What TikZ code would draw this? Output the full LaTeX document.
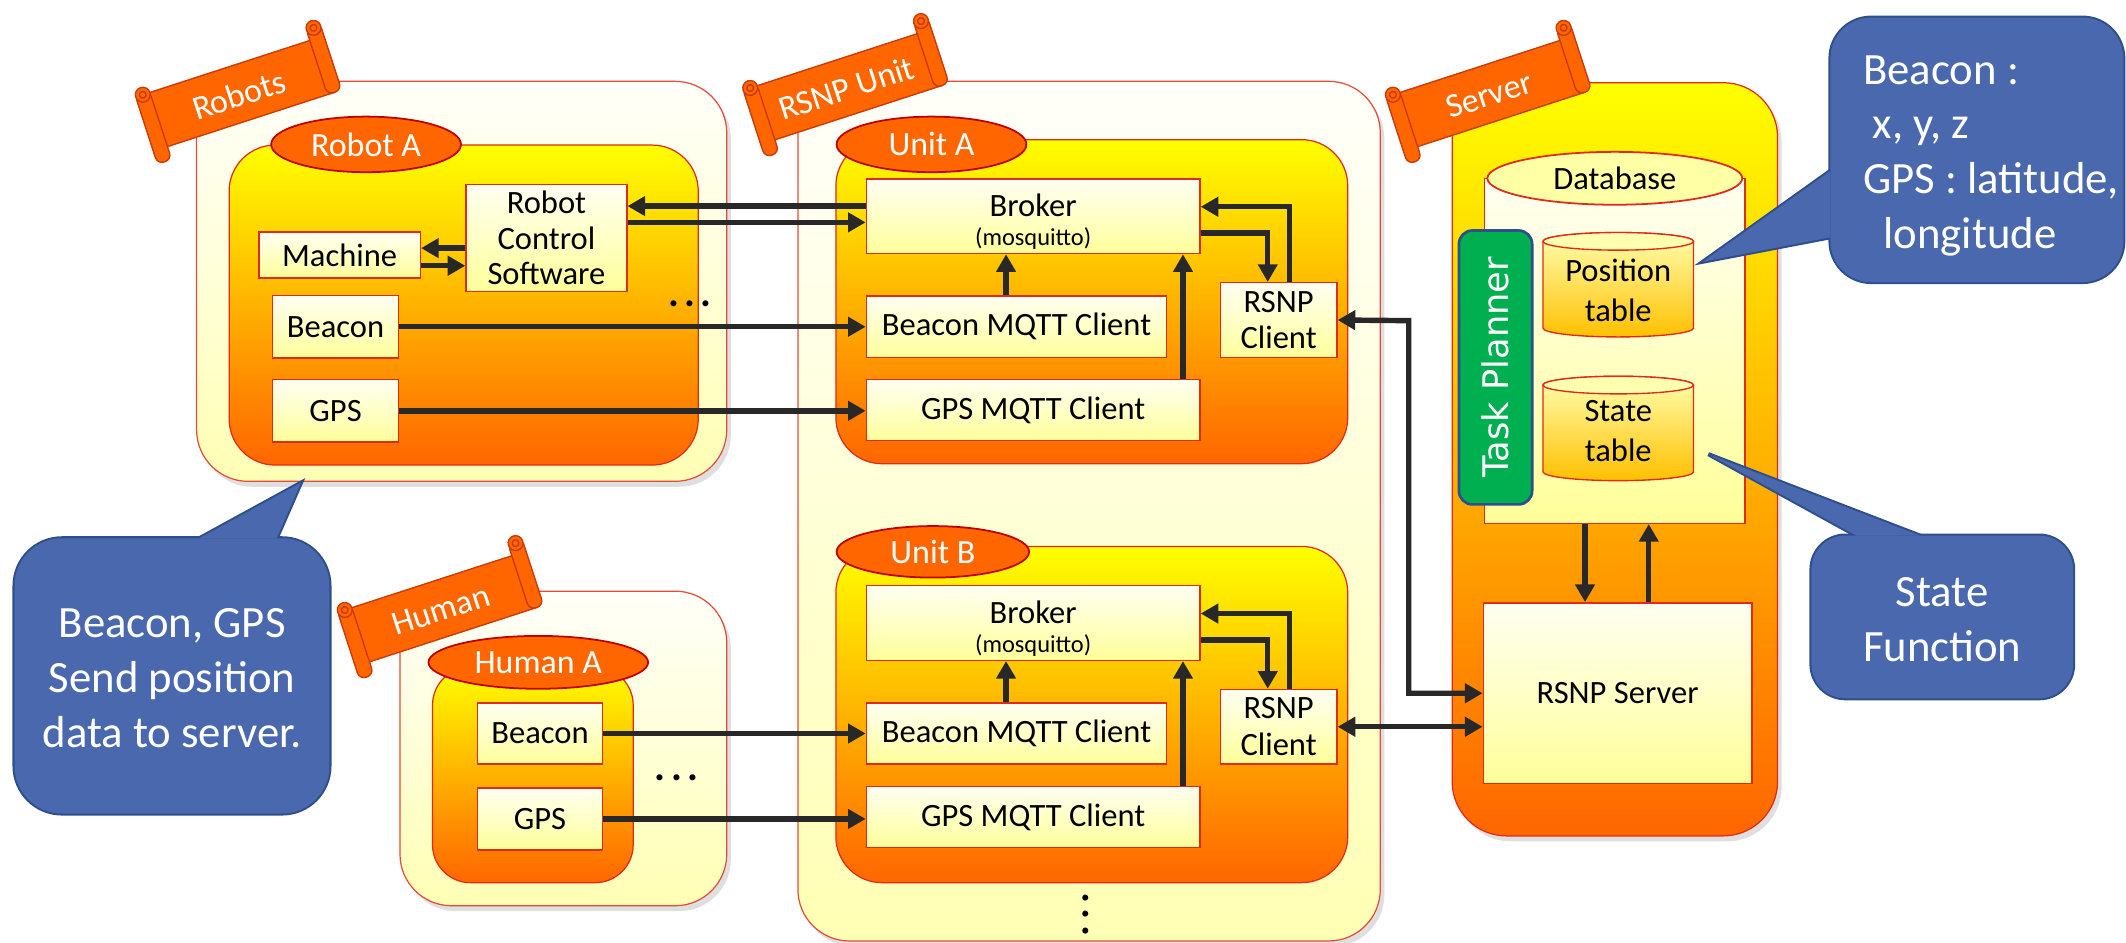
\documentclass[tikz,border=0pt]{standalone}
\usepackage{fontspec}
\setmainfont{Carlito}
\newfontfamily\tpfont{DejaVu Sans}
\usetikzlibrary{arrows.meta,shadows,shapes.geometric}

\definecolor{arrowcol}{HTML}{282828}
\definecolor{boxline}{HTML}{E02A1A}
\definecolor{orng}{HTML}{FF6600}
\definecolor{yllw}{HTML}{FFFF00}
\definecolor{compTop}{HTML}{FFFFF2}
\definecolor{compBot}{HTML}{FFFF9A}
\definecolor{outTop}{HTML}{FFFFFA}
\definecolor{outBot}{HTML}{FFFFB4}
\definecolor{callFill}{HTML}{4A68AD}
\definecolor{callLine}{HTML}{2F4E8C}
\definecolor{tpGreen}{HTML}{00B050}
\definecolor{tpLine}{HTML}{2F4E8C}
\definecolor{tagLine}{HTML}{C00000}
\definecolor{bannerLine}{HTML}{C83A0A}
\definecolor{tblTop}{HTML}{FFFFB0}
\definecolor{tblBot}{HTML}{FFC000}
\definecolor{dbTopFill}{HTML}{FFFFA6}

\tikzset{
 outerbox/.style={draw=boxline!85, line width=0.9, top color=outTop, bottom color=outBot, rounded corners=38, drop shadow={opacity=0.25, shadow xshift=3pt, shadow yshift=-4pt}},
 serverbox/.style={draw=boxline, line width=0.9, top color=yllw, bottom color=orng, rounded corners=40, drop shadow={opacity=0.25, shadow xshift=3pt, shadow yshift=-4pt}},
 innerbox/.style={draw=boxline, line width=0.9, top color=yllw, bottom color=orng, rounded corners=34},
 comp/.style={draw=boxline, line width=1.1, top color=compTop, bottom color=compBot, inner sep=0pt, align=center, font=\fontsize{24}{26}\selectfont},
 comptext/.style={inner sep=0pt, align=center},
 tagell/.style={ellipse, draw=tagLine, line width=1.3, fill=orng, text=white, inner sep=0pt, font=\fontsize{25}{27}\selectfont},
 arrowline/.style={draw=arrowcol, line width=4, -{Triangle[length=13pt,width=14pt]}},
 dblarrow/.style={draw=arrowcol, line width=4, {Triangle[length=13pt,width=14pt]}-{Triangle[length=13pt,width=14pt]}},
 bannerfill/.style={fill=orng, draw=bannerLine, line width=1},
 bannertext/.style={text=white, font=\fontsize{25}{27}\selectfont, inner sep=0pt},
 calloutedge/.style={draw=callLine, line width=3},
 calloutfill/.style={fill=callFill},
 callouttext/.style={text=white, font=\fontsize{33}{40.5}\selectfont, inner sep=0pt},
 tablebody/.style={draw=boxline, line width=1, top color=tblTop, bottom color=tblBot},
 tabletop/.style={draw=boxline, line width=1, fill=tblTop},
 tbltext/.style={align=center, inner sep=0pt, font=\fontsize{24}{29.5}\selectfont},
 dbstyle/.style={draw=boxline, line width=1, top color=compTop, bottom color=compBot, inner sep=0pt},
 dbell/.style={ellipse, draw=boxline, line width=1.3, fill=dbTopFill, inner sep=0pt, font=\fontsize{24}{26}\selectfont},
 dotstyle/.style={font=\fontsize{30}{32}\selectfont\bfseries, inner sep=0pt, text=black},
}

\newcommand\drawbanner[4]{%
\begin{scope}[shift={(#1,#2)}, rotate=18]
 \path[bannerfill] (-67.5,-21) rectangle (67.5,21);
 \path[bannerfill, rounded corners=5] (-73,-23) rectangle (-62,31);
 \path[bannerfill] (-67.5,-21) circle[radius=5.5];
 \path[bannerfill] (-67.5,-21) circle[radius=2.5];
 \path[bannerfill, rounded corners=5] (62,-31) rectangle (73,21);
 \path[bannerfill] (67.5,-29) circle[radius=5.5];
 \path[bannerfill] (67.5,-29) circle[radius=2.5];
 \node[bannertext, rotate=18] (#4) at (0,1) {#3};
\end{scope}}

\begin{document}
\begin{tikzpicture}[x=1pt,y=-1pt]
\useasboundingbox (0,0) rectangle (1568,695);

% outer containers
\path[outerbox] (145,60) rectangle (536,355);
\path[outerbox] (588.5,60) rectangle (1018,694);
\path[outerbox] (295,436) rectangle (536,668);
\path[serverbox] (1071,61) rectangle (1311,616.5);

% inner boxes
\path[innerbox] (169,107) rectangle (515,343);
\path[innerbox] (616.5,103) rectangle (994,342);
\path[innerbox] (616.5,403) rectangle (994,651);
\path[innerbox, rounded corners=28] (319,492) rectangle (467,651);

% database
\node[dbstyle, minimum width=192, minimum height=254.5] (dbBody) at (1191,258.75) {};
\node[dbell, minimum width=188, minimum height=39] (dbTop) at (1191,131.5) {Database};
\path[tablebody] (1138,178) -- (1138,242) arc[start angle=180, end angle=0, x radius=55.5, y radius=6.5] -- (1249,178) arc[start angle=0, end angle=-180, x radius=55.5, y radius=6.5] -- cycle;
\path[tabletop] (1193.5,178) ellipse [x radius=55.5, y radius=6.5];
\node[tbltext] (posTbl) at (1193.5,214) {Position\\table};
\path[tablebody] (1138,284) -- (1138,348) arc[start angle=180, end angle=0, x radius=55.5, y radius=6.5] -- (1249,284) arc[start angle=0, end angle=-180, x radius=55.5, y radius=6.5] -- cycle;
\path[tabletop] (1193.5,284) ellipse [x radius=55.5, y radius=6.5];
\node[tbltext] (stTbl) at (1193.5,318) {State\\table};
\node[draw=tpLine, line width=2, fill=tpGreen, rounded corners=10, rotate=90, minimum width=202, minimum height=54, inner sep=0pt, text=white, font=\tpfont\fontsize{26}{28}\selectfont] (taskPl) at (1103,271) {Task Planner};
\node[comp, minimum width=198, minimum height=133.4] (rsnpS) at (1193,511.3) {RSNP Server};

% robot components
\node[comp, minimum width=119, minimum height=34] (mach) at (250.5,188) {Machine};
\node[comp, minimum width=118.5, minimum height=79] (rcs) at (403,175.5) {Robot\\Control\\Software};
\node[comp, minimum width=93, minimum height=46] (beaconR) at (247.5,241) {Beacon};
\node[comp, minimum width=93, minimum height=46] (gpsR) at (247.5,303) {GPS};

% human components
\node[comp, minimum width=92.5, minimum height=45] (beaconH) at (398.25,541) {Beacon};
\node[comp, minimum width=92.5, minimum height=46] (gpsH) at (398.25,604) {GPS};

% unit components
\foreach \u/\dy in {A/0,B/300}{
 \node[comp, minimum width=246, minimum height=55] (broker\u) at (762,159.5+\dy) {};
 \node[comptext, font=\fontsize{24}{21.5}\selectfont] (brokerT\u) at (762,163.5+\dy) {Broker\\{\fontsize{18}{21.5}\selectfont (mosquitto)}};
 \node[comp, minimum width=221.5, minimum height=45.2] (bmq\u) at (749.75,241+\dy) {Beacon MQTT Client};
 \node[comp, minimum width=246, minimum height=45] (gmq\u) at (762,302.5+\dy) {GPS MQTT Client};
 \node[comp, minimum width=86, minimum height=55, font=\fontsize{24}{27}\selectfont] (rc\u) at (943,236+\dy) {RSNP\\Client};
}

% tags
\node[tagell, minimum width=140, minimum height=41] (robotA) at (270,106.5) {Robot A};
\node[tagell, minimum width=140, minimum height=41] (unitA) at (687,106.5) {Unit A};
\node[tagell, minimum width=142, minimum height=38] (unitB) at (688,407) {Unit B};
\node[tagell, minimum width=162, minimum height=39] (humanA) at (397,488.5) {Human A};

% connectors robot
\coordinate (bA1) at ([yshift=7.5pt]brokerA.west);
\draw[arrowline] (bA1) -- (bA1 -| rcs.east);
\coordinate (rA1) at ([yshift=11.5pt]rcs.east);
\draw[arrowline] (rA1) -- (rA1 -| brokerA.west);
\coordinate (rA2) at ([yshift=-7.5pt]rcs.west);
\draw[arrowline] (rA2) -- (rA2 -| mach.east);
\coordinate (mA1) at ([yshift=-8pt]mach.east);
\draw[arrowline] (mA1) -- (mA1 -| rcs.west);
\draw[arrowline] (beaconR.east) -- (beaconR.east -| bmqA.west);
\draw[arrowline] (gpsR.east) -- (gpsR.east -| gmqA.west);
\draw[arrowline] (beaconH.east) -- (beaconH.east -| bmqB.west);
\draw[arrowline] (gpsH.east) -- (gpsH.east -| gmqB.west);

\foreach \u in {A,B}{
 \coordinate (bq\u) at ([xshift=-7.75pt]bmq\u.north);
 \draw[arrowline] (bq\u) -- (bq\u |- broker\u.south);
 \coordinate (gq\u) at ([xshift=110.5pt]gmq\u.north);
 \draw[arrowline] (gq\u) -- (gq\u |- broker\u.south);
 \coordinate (bo\u) at ([yshift=-12.5pt]broker\u.east);
 \coordinate (ci\u) at ([xshift=-8pt]rc\u.north);
 \draw[arrowline] (bo\u) -| (ci\u);
 \coordinate (co\u) at ([xshift=8pt]rc\u.north);
 \coordinate (bi\u) at ([yshift=7pt]broker\u.east);
 \draw[arrowline] (co\u) |- (bi\u);
}

\coordinate (jA) at (1039,236.5);
\draw[dblarrow] (rcA.east) -- (jA) |- (rsnpS.west);
\draw[dblarrow] (rcB.east) -- (rcB.east -| rsnpS.west);

\coordinate (dd) at ([xshift=-22pt]dbBody.south);
\draw[arrowline] (dd) -- (dd |- rsnpS.north);
\coordinate (du) at ([xshift=23pt]rsnpS.north);
\draw[arrowline] (du) -- (du |- dbBody.south);

% banners
\drawbanner{176}{69}{Robots}{robotsLbl}
\drawbanner{624}{64}{RSNP Unit}{rsnpLbl}
\drawbanner{1098}{69}{Server}{serverLbl}
\drawbanner{325}{449}{Human}{humanLbl}

% callouts
\path[calloutedge] (1256,193) -- (1350,126) -- (1350,175) -- cycle;
\path[calloutedge, rounded corners=30] (1350,13) rectangle (1566,208);
\path[calloutfill] (1256,193) -- (1350,126) -- (1350,175) -- cycle;
\path[calloutfill, rounded corners=30] (1350,13) rectangle (1566,208);
\node[callouttext, align=left, anchor=west] (bcnText) at (1374,115) {Beacon :\\\hspace*{7pt}x, y, z\\GPS : latitude,\\\hspace*{15pt}longitude};

\path[calloutedge] (1260,335) -- (1369,395) -- (1416,395) -- cycle;
\path[calloutedge, rounded corners=25] (1336,395) rectangle (1529,515);
\path[calloutfill] (1260,335) -- (1369,395) -- (1416,395) -- cycle;
\path[calloutfill, rounded corners=25] (1336,395) rectangle (1529,515);
\node[callouttext, align=center] (sfText) at (1432.5,457) {State\\Function};

\path[calloutedge] (222,356) -- (147,397) -- (204,397) -- cycle;
\path[calloutedge, rounded corners=35] (10.7,397) rectangle (243,600);
\path[calloutfill] (222,356) -- (147,397) -- (204,397) -- cycle;
\path[calloutfill, rounded corners=35] (10.7,397) rectangle (243,600);
\node[callouttext, align=center] (bgText) at (127,500) {Beacon, GPS\\Send position\\data to server.};

% ellipsis dots
\node[dotstyle, anchor=base] (dotsR) at (509,226) {.\hspace{4pt}.\hspace{4pt}.};
\node[dotstyle, anchor=base] (dotsH) at (499,576) {.\hspace{4pt}.\hspace{4pt}.};
\node[dotstyle, anchor=base, rotate=90] (dotsV) at (803,674.5) {.\hspace{4pt}.\hspace{4pt}.};
\end{tikzpicture}
\end{document}
